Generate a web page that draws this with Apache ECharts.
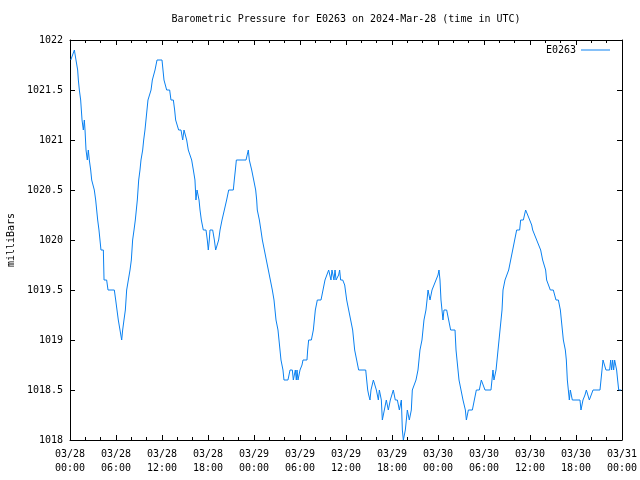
<!DOCTYPE html>
<html>
<head>
<meta charset="utf-8">
<script src="https://cdn.jsdelivr.net/npm/echarts@6/dist/echarts.min.js"></script>
<style>html,body{margin:0;padding:0;background:#fff}#c{width:640px;height:480px}</style>
</head>
<body>
<div id="c"></div>
<script>
// hours since 2024-03-28 00:00 UTC
var hours = [
0.1,0.3,0.57,0.78,1.0,1.09,1.22,1.39,1.48,1.57,1.74,1.87,1.96,2.09,2.26,2.39,2.52,2.70,2.83,3.04,
3.17,3.35,3.48,3.61,3.78,3.91,4.04,4.35,4.44,4.78,4.96,5.78,5.96,6.13,6.30,6.52,6.74,6.87,7.04,7.22,
7.39,7.61,7.83,8.0,8.17,8.35,8.52,8.65,8.78,8.96,9.13,9.26,9.48,9.61,9.78,9.91,10.04,10.17,10.43,10.57,
10.74,11.09,11.35,11.52,12.0,12.13,12.26,12.61,13.0,13.17,13.48,13.65,13.78,14.04,14.17,14.48,14.70,14.87,15.04,15.22,
15.43,15.65,15.87,16.09,16.30,16.43,16.57,16.70,16.83,16.96,17.13,17.39,17.74,17.91,18.04,18.17,18.26,18.61,18.83,19.0,
19.2,19.39,19.57,19.83,20.13,20.43,20.70,21.30,21.43,21.57,21.70,22.96,23.09,23.26,23.39,23.57,23.70,23.96,24.22,24.35,
24.43,24.70,24.9,25.09,25.35,25.61,25.87,26.13,26.39,26.61,26.74,26.87,27.13,27.26,27.39,27.52,27.78,27.91,28.43,28.70,
29.0,29.13,29.26,29.39,29.52,29.61,29.74,30.0,30.26,30.39,30.91,31.0,31.13,31.48,31.74,31.87,32.0,32.26,32.74,33.0,
33.26,33.48,33.74,33.91,34.04,34.17,34.30,34.43,34.57,34.70,34.91,35.04,35.17,35.30,35.57,35.83,36.09,36.35,36.61,36.87,
37.0,37.13,37.39,37.65,38.57,38.70,38.83,38.96,39.13,39.26,39.57,39.70,39.96,40.22,40.35,40.48,40.61,40.74,41.0,41.26,
41.52,41.78,42.17,42.43,42.70,42.96,43.22,43.35,43.48,43.74,44.0,44.26,44.52,44.65,44.87,45.13,45.39,45.52,45.65,45.91,
46.04,46.17,46.43,46.57,46.70,46.96,47.22,47.48,47.74,48.0,48.13,48.26,48.39,48.52,48.65,48.78,49.13,49.39,49.65,50.22,
50.35,50.48,50.74,51.0,51.26,51.57,51.70,51.96,52.48,52.74,53.0,53.39,53.65,53.91,54.13,54.91,55.04,55.17,55.30,55.43,
55.57,55.70,55.83,55.96,56.09,56.22,56.35,56.48,56.74,56.96,57.22,57.48,57.74,58.0,58.26,58.65,58.78,59.13,59.43,59.57,
59.70,59.96,60.22,60.35,60.61,60.87,61.13,61.39,61.65,62.04,62.17,62.39,62.65,63.04,63.39,63.70,63.96,64.09,64.22,64.35,
64.61,64.74,64.87,65.0,65.13,65.26,65.39,65.52,66.52,66.65,66.78,66.91,67.17,67.35,67.48,67.74,67.96,68.22,69.13,69.26,
69.39,69.52,69.65,69.91,70.39,70.52,70.65,70.78,70.91,71.04,71.30,71.43,71.57,71.9
];
var pressure = [
1021.8,1021.8,1021.9,1021.8,1021.7,1021.6,1021.5,1021.4,1021.3,1021.2,1021.1,1021.2,1021.1,1020.9,1020.8,1020.9,1020.8,1020.7,1020.6,1020.6,
1020.5,1020.4,1020.3,1020.2,1020.1,1020.0,1019.9,1019.9,1019.6,1019.6,1019.5,1019.5,1019.4,1019.3,1019.2,1019.1,1019.0,1019.1,1019.2,1019.3,
1019.5,1019.6,1019.7,1019.8,1020.0,1020.1,1020.2,1020.3,1020.4,1020.6,1020.7,1020.8,1020.9,1021.0,1021.1,1021.2,1021.3,1021.4,1021.4,1021.5,
1021.6,1021.7,1021.8,1021.8,1021.8,1021.7,1021.6,1021.5,1021.5,1021.4,1021.4,1021.3,1021.2,1021.2,1021.1,1021.1,1021.0,1021.1,1021.1,1021.0,
1020.9,1020.9,1020.8,1020.7,1020.6,1020.4,1020.5,1020.5,1020.4,1020.3,1020.2,1020.1,1020.1,1020.0,1019.9,1020.0,1020.1,1020.1,1020.0,1019.9,
1019.9,1020.0,1020.1,1020.2,1020.3,1020.4,1020.5,1020.5,1020.6,1020.7,1020.8,1020.8,1020.8,1020.9,1020.8,1020.8,1020.7,1020.6,1020.5,1020.4,
1020.3,1020.2,1020.1,1020.0,1019.9,1019.8,1019.7,1019.6,1019.5,1019.4,1019.3,1019.2,1019.1,1019.0,1018.9,1018.8,1018.7,1018.6,1018.6,1018.7,
1018.7,1018.6,1018.6,1018.7,1018.6,1018.7,1018.6,1018.7,1018.75,1018.8,1018.8,1018.9,1019.0,1019.0,1019.1,1019.2,1019.3,1019.4,1019.4,1019.5,
1019.6,1019.6,1019.7,1019.7,1019.6,1019.7,1019.7,1019.6,1019.7,1019.6,1019.6,1019.65,1019.7,1019.6,1019.6,1019.55,1019.4,1019.3,1019.2,1019.1,
1019.0,1018.9,1018.8,1018.7,1018.7,1018.6,1018.5,1018.45,1018.4,1018.5,1018.6,1018.6,1018.5,1018.4,1018.5,1018.5,1018.4,1018.2,1018.3,1018.4,
1018.3,1018.4,1018.5,1018.4,1018.4,1018.3,1018.4,1018.1,1018.0,1018.1,1018.3,1018.2,1018.3,1018.5,1018.5,1018.6,1018.7,1018.8,1018.9,1019.0,
1019.1,1019.2,1019.3,1019.4,1019.5,1019.4,1019.5,1019.5,1019.6,1019.65,1019.7,1019.6,1019.4,1019.3,1019.2,1019.3,1019.3,1019.2,1019.1,1019.1,
1018.9,1018.8,1018.6,1018.5,1018.4,1018.3,1018.2,1018.3,1018.3,1018.4,1018.5,1018.5,1018.6,1018.6,1018.5,1018.5,1018.6,1018.7,1018.6,1018.6,
1018.7,1018.8,1018.9,1019.0,1019.1,1019.2,1019.3,1019.5,1019.6,1019.6,1019.7,1019.8,1019.9,1020.0,1020.1,1020.1,1020.2,1020.2,1020.3,1020.3,
1020.25,1020.2,1020.15,1020.1,1020.1,1020.0,1020.0,1019.9,1019.8,1019.7,1019.6,1019.6,1019.5,1019.5,1019.4,1019.4,1019.3,1019.2,1019.1,1019.0,
1018.9,1018.8,1018.6,1018.5,1018.4,1018.5,1018.5,1018.4,1018.4,1018.3,1018.35,1018.4,1018.45,1018.5,1018.5,1018.4,1018.4,1018.5,1018.5,1018.6,
1018.7,1018.8,1018.8,1018.7,1018.7,1018.8,1018.7,1018.8,1018.7,1018.8,1018.7,1018.6,1018.5,1018.5
];
var tickHours = [0,6,12,18,24,30,36,42,48,54,60,66,72];
var tickLabels = ['03/28\n00:00','03/28\n06:00','03/28\n12:00','03/28\n18:00','03/29\n00:00','03/29\n06:00',
  '03/29\n12:00','03/29\n18:00','03/30\n00:00','03/30\n06:00','03/30\n12:00','03/30\n18:00','03/31\n00:00'];
var seriesName = 'E0263';
var titleText = 'Barometric Pressure for E0263 on 2024-Mar-28 (time in UTC)';
var yName = 'milliBars';

var data = hours.map(function (h, i) { return [h, pressure[i]]; });
var FONT = 'DejaVu Sans Mono';
var black = '#000';
var lineColor = '#0a80f0';
function xAxisCfg(pos, showLabel) {
  return {
    type: 'value', position: pos, min: 0, max: 72, interval: 6,
    axisLine: { show: true, onZero: false, lineStyle: { color: black, width: 1 } },
    axisTick: { show: true, inside: true, length: 5, lineStyle: { color: black } },
    minorTick: { show: true, splitNumber: 3, length: 3, lineStyle: { color: black } },
    splitLine: { show: false },
    axisLabel: {
      show: showLabel, margin: 7, color: black, fontFamily: FONT, fontSize: 10, lineHeight: 14,
      hideOverlap: false, showMinLabel: true, showMaxLabel: true,
      formatter: function (v) { var k = tickHours.indexOf(v); return k >= 0 ? tickLabels[k] : ''; }
    }
  };
}
function yAxisCfg(pos, showLabel) {
  return {
    type: 'value', position: pos, min: 1018, max: 1022, interval: 0.5,
    name: showLabel ? yName : '', nameLocation: 'middle', nameGap: 50, nameRotate: 90,
    nameTextStyle: { color: black, fontFamily: FONT, fontSize: 10 },
    axisLine: { show: true, onZero: false, lineStyle: { color: black, width: 1 } },
    axisTick: { show: true, inside: true, length: 5, lineStyle: { color: black } },
    splitLine: { show: false },
    axisLabel: {
      show: showLabel, margin: 7, color: black, fontFamily: FONT, fontSize: 10,
      showMinLabel: true, showMaxLabel: true,
      formatter: function (v) { return String(Math.round(v * 10) / 10); }
    }
  };
}
var chart = echarts.init(document.getElementById('c'), null, { renderer: 'canvas' });
chart.setOption({
  animation: false,
  backgroundColor: '#fff',
  title: {
    text: titleText, left: 346, top: 14, textAlign: 'center', padding: 0,
    textStyle: { color: black, fontFamily: FONT, fontSize: 10, fontWeight: 'normal' }
  },
  legend: {
    data: [seriesName], right: 30, top: 45, align: 'right', icon: 'rect', padding: 0,
    itemWidth: 29, itemHeight: 1, itemGap: 5,
    textStyle: { color: black, fontFamily: FONT, fontSize: 10 }
  },
  grid: { left: 70, right: 18, top: 40, bottom: 40, containLabel: false, outerBoundsMode: 'none' },
  xAxis: [xAxisCfg('bottom', true), xAxisCfg('top', false)],
  yAxis: [yAxisCfg('left', true), yAxisCfg('right', false)],
  series: [{
    name: seriesName, type: 'line', data: data, showSymbol: false, symbol: 'none',
    xAxisIndex: 0, yAxisIndex: 0,
    lineStyle: { color: lineColor, width: 1 }, itemStyle: { color: lineColor }
  }]
});
</script>
</body>
</html>
